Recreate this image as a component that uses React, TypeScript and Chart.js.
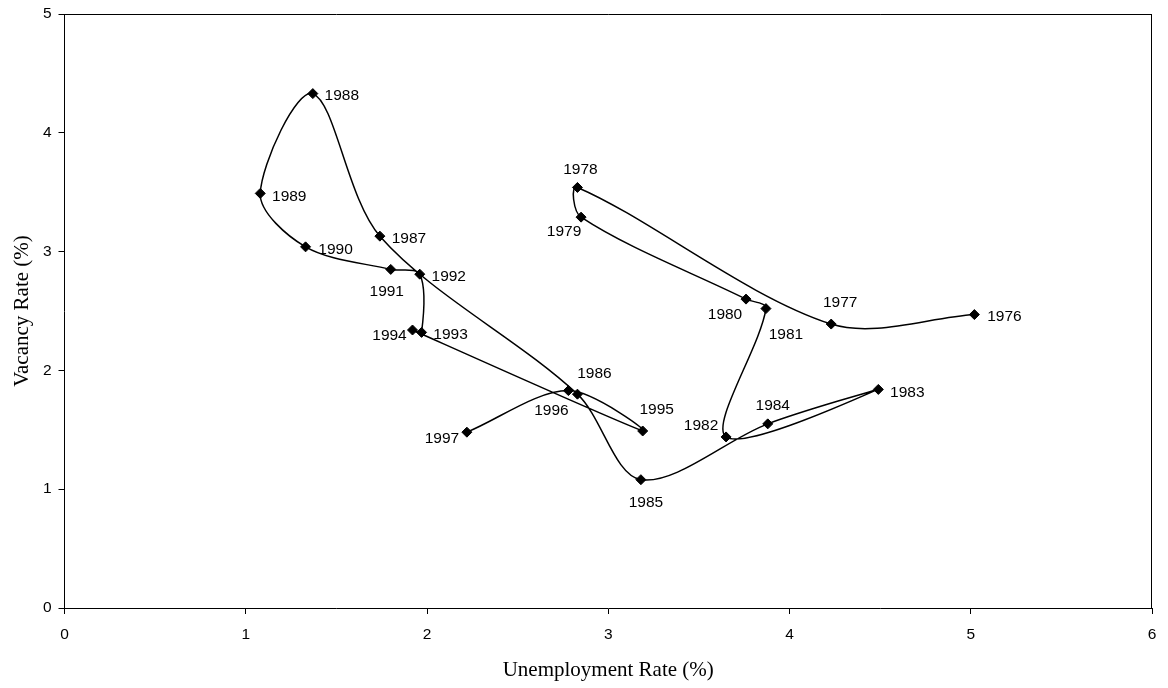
import React, { useEffect, useRef } from "react";
import { Chart, registerables } from "chart.js";

Chart.register(...registerables);

const years = [
  "1976", "1977", "1978", "1979", "1980", "1981", "1982", "1983", "1984", "1985", "1986",
  "1987", "1988", "1989", "1990", "1991", "1992", "1993", "1994", "1995", "1996", "1997",
];
const unemployment = [
  5.02, 4.23, 2.83, 2.85, 3.76, 3.87, 3.65, 4.49, 3.88, 3.18, 2.83,
  1.74, 1.37, 1.08, 1.33, 1.8, 1.96, 1.97, 1.92, 3.19, 2.78, 2.22,
];
const vacancy = [
  2.47, 2.39, 3.54, 3.29, 2.6, 2.52, 1.44, 1.84, 1.55, 1.08, 1.8,
  3.13, 4.33, 3.49, 3.04, 2.85, 2.81, 2.32, 2.34, 1.49, 1.83, 1.48,
];
const xTicks = [0, 1, 2, 3, 4, 5, 6];
const yTicks = [0, 1, 2, 3, 4, 5];

// label placement relative to each marker (px)
const labelOffsets: [number, number][] = [
  [30, 2], [9, -21], [3, -18], [-17, 15], [-21, 16], [20, 26], [-25, -11], [29, 3],
  [5, -18], [5, 23], [17, -20], [29, 3], [29, 2], [29, 3], [30, 3], [-4, 22],
  [29, 3], [29, 2], [-23, 6], [14, -21], [-17, 20], [-25, 7],
];

const SANS = "'Liberation Sans', Arial, sans-serif";
const SERIF = "'Liberation Serif', 'Times New Roman', serif";

const labelPlugin = {
  id: "yearLabels",
  afterDatasetsDraw(chart: any) {
    const ctx = chart.ctx;
    const meta = chart.getDatasetMeta(0);
    ctx.save();
    ctx.font = `15.5px ${SANS}`;
    ctx.fillStyle = "#000";
    ctx.textAlign = "center";
    ctx.textBaseline = "middle";
    meta.data.forEach((pt: any, i: number) => {
      const [dx, dy] = labelOffsets[i];
      ctx.fillText(years[i], pt.x + dx, pt.y + dy);
    });
    ctx.restore();
  },
};

const framePlugin = {
  id: "frame",
  afterDraw(chart: any) {
    const { ctx, chartArea } = chart;
    ctx.save();
    ctx.strokeStyle = "#000";
    ctx.lineWidth = 1;
    ctx.beginPath();
    ctx.moveTo(chartArea.left, chartArea.top + 0.5);
    ctx.lineTo(chartArea.right, chartArea.top + 0.5);
    ctx.moveTo(chartArea.right - 0.5, chartArea.top);
    ctx.lineTo(chartArea.right - 0.5, chartArea.bottom);
    ctx.stroke();
    ctx.restore();
  },
};

export default function App() {
  const ref = useRef<HTMLCanvasElement>(null);

  useEffect(() => {
    if (!ref.current) return;
    const points = unemployment.map((u, i) => ({ x: u, y: vacancy[i] }));
    const chart = new Chart(ref.current, {
      type: "line",
      data: {
        datasets: [
          {
            data: points,
            borderColor: "#000",
            borderWidth: 1.5,
            backgroundColor: "#000",
            pointStyle: "rectRot",
            pointRadius: 5,
            pointBorderWidth: 1,
            pointBackgroundColor: "#000",
            pointBorderColor: "#000",
            tension: 0.32,
            fill: false,
          },
        ],
      },
      options: {
        responsive: false,
        animation: false,
        devicePixelRatio: 1,
        layout: { padding: { top: 14, right: 16, left: 0, bottom: 0 } },
        plugins: {
          legend: { display: false },
          tooltip: { enabled: false },
        },
        scales: {
          x: {
            type: "linear",
            min: 0,
            max: 6,
            afterBuildTicks: (s: any) => {
              s.ticks = xTicks.map((v) => ({ value: v }));
            },
            afterFit: (s: any) => {
              s.height = 80;
              s.paddingLeft = 0;
              s.paddingRight = 0;
            },
            grid: {
              drawOnChartArea: false,
              drawTicks: true,
              tickLength: 6,
              color: "#000",
            },
            border: { display: true, color: "#000", width: 1 },
            ticks: {
              color: "#000",
              padding: 11,
              font: { family: SANS, size: 15.5 },
              maxRotation: 0,
            },
            title: {
              display: true,
              text: "Unemployment Rate (%)",
              color: "#000",
              font: { family: SERIF, size: 21 },
              padding: { top: 0, bottom: 5 },
            },
          },
          y: {
            type: "linear",
            min: 0,
            max: 5,
            afterBuildTicks: (s: any) => {
              s.ticks = yTicks.map((v) => ({ value: v }));
            },
            afterFit: (s: any) => {
              s.width = 64.5;
              s.paddingTop = 0;
              s.paddingBottom = 0;
            },
            grid: {
              drawOnChartArea: false,
              drawTicks: true,
              tickLength: 6,
              color: "#000",
            },
            border: { display: true, color: "#000", width: 1 },
            ticks: {
              color: "#000",
              padding: 7,
              font: { family: SANS, size: 15.5 },
            },
            title: {
              display: true,
              text: "Vacancy Rate (%)",
              color: "#000",
              font: { family: SERIF, size: 21 },
              padding: { top: 10, bottom: 0 },
            },
          },
        },
      },
      plugins: [labelPlugin, framePlugin],
    });
    return () => chart.destroy();
  }, []);

  return (
    <div style={{ position: "fixed", left: 0, top: 0, width: 1168, height: 688, background: "#fff" }}>
      <canvas ref={ref} width={1168} height={688} style={{ width: 1168, height: 688, display: "block" }} />
    </div>
  );
}
